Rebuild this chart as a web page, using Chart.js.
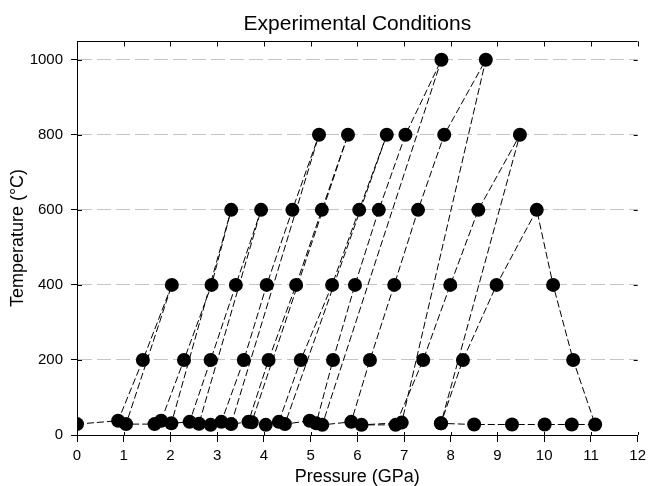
<!DOCTYPE html>
<html>
<head>
<meta charset="utf-8">
<title>Experimental Conditions</title>
<script src="https://cdn.jsdelivr.net/npm/chart.js@4.4.0/dist/chart.umd.min.js"></script>
<style>
  html, body { margin: 0; padding: 0; background: #fff; }
  canvas { display: block; }
</style>
</head>
<body>
<canvas id="conditionsChart" width="651" height="486"></canvas>
<script>
// one continuous path: compress at room T, heat in steps, quench, compress again...
const pressure = [
  0.00, 0.88, 1.41, 2.03, 1.05,
  1.66, 1.80, 2.29, 2.88, 3.30, 2.02,
  2.41, 2.86, 3.40, 3.94, 2.61,
  2.86, 3.09, 3.57, 4.06, 4.61, 5.18, 3.30,
  3.67, 4.10, 4.69, 5.24, 5.80, 3.74,
  4.04, 4.32, 4.79, 5.46, 6.04, 6.63, 4.45,
  4.98, 5.12, 5.48, 5.95, 6.46, 7.03, 7.80, 5.25,
  5.87, 6.27, 6.79, 7.30, 7.86, 8.75, 6.95,
  6.09, 6.82, 7.41, 7.99, 8.59, 9.48, 7.79,
  8.50, 9.31, 10.01, 10.59, 11.09, 10.62, 10.19, 9.84, 8.98, 8.26, 7.79
];
const temperature = [
  29, 38, 200, 400, 29,
  29, 38, 200, 400, 600, 31,
  35, 200, 400, 600, 30,
  27, 35, 200, 400, 600, 800, 29,
  35, 200, 400, 600, 800, 34,
  27, 35, 200, 400, 600, 800, 29,
  38, 31, 200, 400, 600, 800, 1000, 27,
  35, 200, 400, 600, 800, 1000, 33,
  27, 27, 200, 400, 600, 800, 31,
  28, 28, 28, 28, 28, 200, 400, 600, 400, 200, 31
];
const pressureTicks = [0, 1, 2, 3, 4, 5, 6, 7, 8, 9, 10, 11, 12];
const temperatureTicks = [0, 200, 400, 600, 800, 1000];

const FONT = "'Liberation Sans', Arial, sans-serif";

// top border plus the small inner tick marks
const frame = {
  id: 'frame',
  afterDraw(chart) {
    const {ctx, chartArea: a, scales: {x, y}} = chart;
    ctx.save();
    ctx.strokeStyle = '#000';
    ctx.lineWidth = 1;
    ctx.beginPath();
    const top = Math.round(a.top) + 0.5;
    ctx.moveTo(a.left, top);
    ctx.lineTo(a.right, top);
    pressureTicks.forEach(v => {
      const px = Math.round(x.getPixelForValue(v)) + 0.5;
      ctx.moveTo(px, top);
      ctx.lineTo(px, top + 5);
      ctx.moveTo(px, a.bottom);
      ctx.lineTo(px, a.bottom - 3);
    });
    temperatureTicks.forEach(v => {
      const py = Math.round(y.getPixelForValue(v)) + 0.5;
      ctx.moveTo(a.left, py);
      ctx.lineTo(a.left + 5, py);
      if (v > 0) {
        ctx.moveTo(a.right, py);
        ctx.lineTo(a.right - 4, py);
      }
    });
    ctx.stroke();
    ctx.restore();
  }
};

new Chart(document.getElementById('conditionsChart'), {
  type: 'scatter',
  data: {
    datasets: [{
      data: pressure.map((p, i) => ({x: p, y: temperature[i]})),
      showLine: true,
      borderColor: '#000',
      borderWidth: 1,
      borderDash: [7, 3],
      pointRadius: 7,
      pointBackgroundColor: '#000',
      pointBorderColor: '#000',
      pointBorderWidth: 0,
      tension: 0
    }]
  },
  options: {
    responsive: false,
    animation: false,
    devicePixelRatio: 1,
    layout: { padding: { left: 0, right: 11, top: 0, bottom: 0 } },
    plugins: {
      legend: { display: false },
      tooltip: { enabled: false },
      title: {
        display: true,
        text: 'Experimental Conditions',
        fullSize: false,
        color: '#000',
        font: { family: FONT, size: 21, weight: 'normal', lineHeight: 1 },
        padding: { top: 14, bottom: 6 }
      }
    },
    scales: {
      x: {
        type: 'linear',
        min: 0,
        max: 12,
        afterBuildTicks: s => { s.ticks = pressureTicks.map(v => ({value: v})); },
        afterFit: s => { s.height = 51; },
        ticks: {
          color: '#000',
          font: { family: FONT, size: 15 },
          padding: 5,
          maxRotation: 0,
          callback: v => String(v)
        },
        grid: { drawOnChartArea: false, drawTicks: true, tickLength: 7, tickColor: '#000' },
        border: { display: true, color: '#000', width: 1 },
        title: {
          display: true,
          text: 'Pressure (GPa)',
          color: '#000',
          font: { family: FONT, size: 18, lineHeight: 1 },
          padding: { top: 0, bottom: 0 }
        }
      },
      y: {
        type: 'linear',
        min: 0,
        max: 1050,
        afterBuildTicks: s => { s.ticks = temperatureTicks.map(v => ({value: v})); },
        afterFit: s => { s.width = 77; },
        ticks: {
          color: '#000',
          font: { family: FONT, size: 15 },
          padding: 8,
          callback: v => String(v)
        },
        grid: {
          color: c => (c.tick && c.tick.value === 0) ? 'rgba(0,0,0,0)' : '#c4c4c4',
          lineWidth: 1,
          drawTicks: true,
          tickLength: 6,
          tickColor: '#000'
        },
        border: { display: true, color: '#000', width: 1, dash: [14, 5] },
        title: {
          display: true,
          text: 'Temperature (°C)',
          color: '#000',
          font: { family: FONT, size: 18, lineHeight: 1 },
          padding: { top: 9, bottom: 0 }
        }
      }
    }
  },
  plugins: [frame]
});
</script>
</body>
</html>
